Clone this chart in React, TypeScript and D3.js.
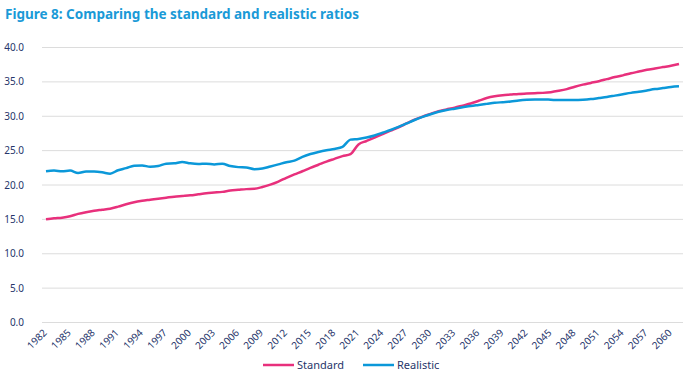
import React from "react";
import * as d3 from "d3";

const years: number[] = d3.range(1982, 2062);

const standard: number[] = [
  15.0, 15.15, 15.25, 15.45, 15.8, 16.05, 16.25, 16.4, 16.55, 16.85,
  17.2, 17.5, 17.7, 17.85, 18.0, 18.15, 18.3, 18.4, 18.5, 18.65,
  18.8, 18.9, 19.0, 19.2, 19.3, 19.4, 19.45, 19.7, 20.05, 20.5,
  21.05, 21.55, 22.0, 22.5, 22.95, 23.4, 23.8, 24.2, 24.5, 25.9,
  26.4, 26.9, 27.4, 27.9, 28.4, 28.95, 29.5, 29.95, 30.35, 30.75,
  31.0, 31.25, 31.55, 31.85, 32.25, 32.65, 32.9, 33.05, 33.15, 33.25,
  33.3, 33.35, 33.4, 33.5, 33.7, 33.95, 34.3, 34.6, 34.85, 35.1,
  35.4, 35.7, 35.95, 36.25, 36.5, 36.75, 36.95, 37.15, 37.35, 37.6,
];

const realistic: number[] = [
  22.0, 22.1, 22.0, 22.1, 21.75, 21.95, 21.95, 21.85, 21.65, 22.15,
  22.45, 22.8, 22.85, 22.65, 22.75, 23.1, 23.15, 23.35, 23.15, 23.05,
  23.1, 23.0, 23.1, 22.75, 22.6, 22.55, 22.3, 22.4, 22.7, 23.0,
  23.3, 23.55, 24.1, 24.5, 24.8, 25.05, 25.25, 25.55, 26.6, 26.7,
  26.9, 27.2, 27.6, 28.0, 28.45, 28.95, 29.45, 29.9, 30.3, 30.65,
  30.9, 31.1, 31.3, 31.5, 31.65, 31.8, 31.95, 32.05, 32.15, 32.3,
  32.4, 32.45, 32.45, 32.4, 32.35, 32.35, 32.35, 32.4, 32.5, 32.65,
  32.8, 33.0, 33.2, 33.4, 33.55, 33.75, 33.95, 34.1, 34.25, 34.35,
];

const yTicks: number[] = [0, 5, 10, 15, 20, 25, 30, 35, 40];
const xTickYears: number[] = d3.range(1982, 2061, 3);

const seriesNames = ["Standard", "Realistic"];
const seriesColors = ["#e8307c", "#0b98d9"];

const W = 689;
const H = 380;
const FONT = "'Noto Sans', 'Open Sans', sans-serif";
const TEXT_COLOR = "#27366b";

export default function App() {
  const x = d3
    .scaleBand<number>()
    .domain(years)
    .range([42, 683])
    .paddingInner(0)
    .paddingOuter(0);
  const y = d3.scaleLinear().domain([0, 40]).range([322.5, 47.5]);

  const cx = (yr: number) => (x(yr) as number) + x.bandwidth() / 2;

  const line = d3
    .line<number>()
    .x((_, i) => cx(years[i]))
    .y((d) => y(d))
    .curve(d3.curveMonotoneX);

  const series = [standard, realistic];

  return (
    <svg
      width={W}
      height={H}
      style={{ position: "absolute", left: 0, top: 0, background: "#fff" }}
      fontFamily={FONT}
    >
      <text x={5} y={19} fontSize={13.5} fontWeight={700} fill="#1a9ad7">
        Figure 8: Comparing the standard and realistic ratios
      </text>

      {yTicks.map((t) => (
        <g key={t}>
          <line
            x1={42}
            x2={683}
            y1={y(t)}
            y2={y(t)}
            stroke="#dcdcdc"
            strokeWidth={1}
          />
          <text
            x={24}
            y={y(t)}
            dy="0.35em"
            textAnchor="end"
            fontSize={10}
            fill={TEXT_COLOR}
          >
            {t.toFixed(1)}
          </text>
        </g>
      ))}

      {xTickYears.map((yr) => (
        <text
          key={yr}
          transform={`translate(${cx(yr) - 1},${331}) rotate(-45)`}
          textAnchor="end"
          dy="0.35em"
          fontSize={10}
          fill={TEXT_COLOR}
        >
          {yr}
        </text>
      ))}

      {series.map((s, i) => (
        <path
          key={seriesNames[i]}
          d={line(s) || ""}
          fill="none"
          stroke={seriesColors[i]}
          strokeWidth={2.5}
          strokeLinejoin="round"
        />
      ))}

      {seriesNames.map((n, i) => (
        <g key={n} transform={`translate(${263 + i * 100},${365})`}>
          <line x1={0} x2={31} y1={0} y2={0} stroke={seriesColors[i]} strokeWidth={2.5} />
          <text x={34} y={0} dy="0.35em" fontSize={11} fill={TEXT_COLOR}>
            {n}
          </text>
        </g>
      ))}
    </svg>
  );
}
